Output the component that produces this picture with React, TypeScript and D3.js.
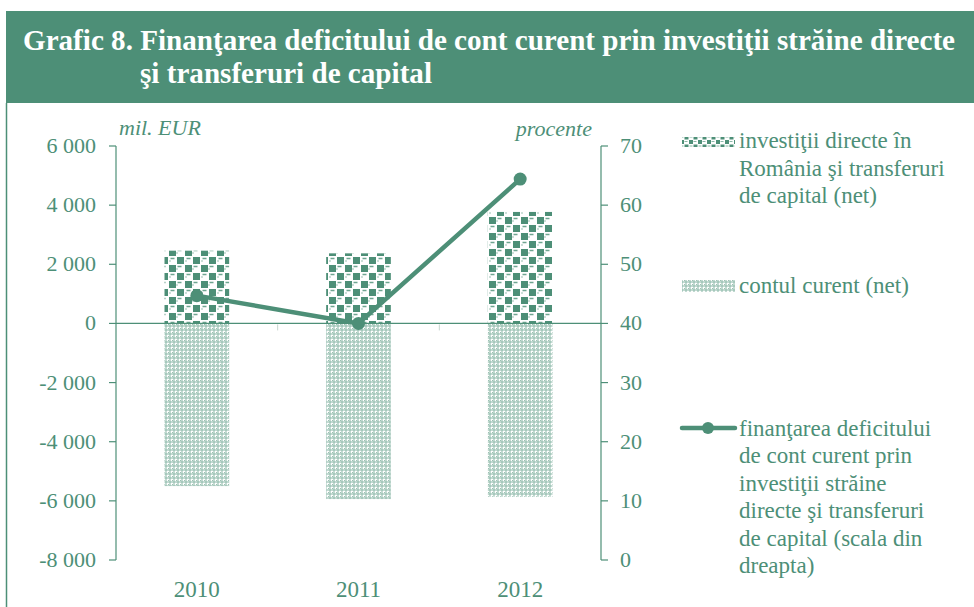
import React from "react";
import * as d3 from "d3";

// chart values
const years = ["2010", "2011", "2012"];
const fdiCapital = [2460, 2370, 3770]; // mil. EUR
const currentAccount = [-5500, -5940, -5860]; // mil. EUR
const coverage = [44.7, 40.0, 64.4]; // procente
const leftTicks = [6000, 4000, 2000, 0, -2000, -4000, -6000, -8000];
const rightTicks = [70, 60, 50, 40, 30, 20, 10, 0];

const titleLines = [
  "Grafic 8. Finanţarea deficitului de cont curent prin investiţii străine directe",
  "şi transferuri de capital",
];
const legendFdi = ["investiţii directe în", "România şi transferuri", "de capital (net)"];
const legendCa = ["contul curent (net)"];
const legendLine = [
  "finanţarea deficitului",
  "de cont curent prin",
  "investiţii străine",
  "directe şi transferuri",
  "de capital (scala din",
  "dreapta)",
];

const green = "#4d8f77";
const serif = "Liberation Serif, Times New Roman, serif";

const fmt = d3.formatLocale({
  decimal: ",",
  thousands: " ",
  grouping: [3],
  currency: ["", ""],
  minus: "-",
}).format(",");

export default function App() {
  const W = 974;
  const H = 607;
  const plotLeft = 116;
  const plotRight = 601;
  const plotTop = 146;
  const plotBottom = 560;

  const x = d3
    .scaleBand()
    .domain(years)
    .range([plotLeft, plotRight])
    .paddingInner(0.6)
    .paddingOuter(0.3);
  const y = d3.scaleLinear().domain([-8000, 6000]).range([plotBottom, plotTop]);
  const y2 = d3.scaleLinear().domain([0, 70]).range([plotBottom, plotTop]);

  const cx = (i: number) => (x(years[i]) as number) + x.bandwidth() / 2;
  const line = d3
    .line<number>()
    .x((_, i) => cx(i))
    .y((d) => y2(d));

  const step = x.step();

  const T = (props: any) => <text fontFamily={serif} fill={green} {...props} />;

  return (
    <svg
      width={W}
      height={H}
      style={{ position: "absolute", left: 0, top: 0, background: "#fff" }}
    >
      <defs>
        <pattern id="chk" width="16" height="16" patternUnits="userSpaceOnUse">
          <rect width="16" height="16" fill="#fff" />
          <rect x="1" y="1" width="7" height="7" fill={green} />
          <rect x="9" y="9" width="7" height="7" fill={green} />
          <path d="M10.5 2.5 h4 M1.5 10.5 h4" stroke="#6fa591" strokeWidth="1.3" />
          <path d="M10 4 v2 M1 12 v2" stroke="#9cc2b3" strokeWidth="1" />
        </pattern>
        <pattern id="chkSmall" width="9" height="9" patternUnits="userSpaceOnUse">
          <rect width="9" height="9" fill="#fff" />
          <rect x="0.5" y="0.5" width="4" height="4" fill={green} />
          <rect x="5" y="5" width="4" height="4" fill={green} />
          <path d="M5.5 2 h3 M0.5 6.5 h3" stroke="#8cb8a7" strokeWidth="1" />
        </pattern>
        <pattern id="dots" width="4" height="4" patternUnits="userSpaceOnUse">
          <rect width="4" height="4" fill="#fff" />
          <circle cx="2" cy="2" r="1.2" fill="none" stroke="#6ea692" strokeWidth="0.9" />
          <rect x="0" y="0" width="1" height="1" fill="#9cc2b3" />
        </pattern>
      </defs>

      {/* title band */}
      <rect x={6} y={11} width={W - 6} height={92} fill={green} />
      <line x1={6.5} x2={6.5} y1={103} y2={H} stroke={green} strokeWidth={1.5} />
      <T
        x={23}
        y={50}
        fill="#fff"
        fontWeight="bold"
        fontSize={29}
        textLength={932}
        lengthAdjust="spacingAndGlyphs"
      >
        {titleLines[0]}
      </T>
      <T
        x={140}
        y={83}
        fill="#fff"
        fontWeight="bold"
        fontSize={29}
        textLength={292}
        lengthAdjust="spacingAndGlyphs"
      >
        {titleLines[1]}
      </T>

      {/* bars */}
      {years.map((yr, i) => (
        <g key={yr}>
          <rect
            x={x(yr)}
            y={y(fdiCapital[i])}
            width={x.bandwidth()}
            height={y(0) - y(fdiCapital[i])}
            fill="url(#chk)"
          />
          <rect
            x={x(yr)}
            y={y(0)}
            width={x.bandwidth()}
            height={y(currentAccount[i]) - y(0)}
            fill="url(#dots)"
          />
        </g>
      ))}

      {/* zero line and category ticks */}
      <line x1={plotLeft} x2={plotRight} y1={y(0)} y2={y(0)} stroke={green} strokeWidth={1.2} />
      {[1, 2].map((k) => (
        <line
          key={k}
          x1={plotLeft + k * step}
          x2={plotLeft + k * step}
          y1={y(0) + 1}
          y2={y(0) + 7}
          stroke="#c8d6d0"
          strokeWidth={1}
        />
      ))}

      {/* left axis */}
      <line x1={plotLeft} x2={plotLeft} y1={plotTop} y2={plotBottom} stroke={green} strokeWidth={1.2} />
      {leftTicks.map((t) => (
        <g key={t}>
          <line x1={plotLeft - 7} x2={plotLeft} y1={y(t)} y2={y(t)} stroke={green} strokeWidth={1.2} />
          <T x={96} y={y(t) + 7} textAnchor="end" fontSize={22}>
            {fmt(t)}
          </T>
        </g>
      ))}
      <T x={119} y={135} fontSize={22} fontStyle="italic">
        mil. EUR
      </T>

      {/* right axis */}
      <line x1={plotRight} x2={plotRight} y1={plotTop} y2={plotBottom} stroke={green} strokeWidth={1.2} />
      {rightTicks.map((t) => (
        <g key={t}>
          <line x1={plotRight} x2={plotRight + 7} y1={y2(t)} y2={y2(t)} stroke={green} strokeWidth={1.2} />
          <T x={620} y={y2(t) + 7} fontSize={22}>
            {t}
          </T>
        </g>
      ))}
      <T x={592} y={136} fontSize={22} fontStyle="italic" textAnchor="end">
        procente
      </T>

      {/* x labels */}
      {years.map((yr, i) => (
        <T key={yr} x={cx(i)} y={597} textAnchor="middle" fontSize={23}>
          {yr}
        </T>
      ))}

      {/* line series */}
      <path d={line(coverage) || ""} fill="none" stroke={green} strokeWidth={4.5} strokeLinejoin="round" />
      {coverage.map((v, i) => (
        <circle key={i} cx={cx(i)} cy={y2(v)} r={6.5} fill={green} />
      ))}

      {/* legend */}
      <rect x={682} y={137} width={53} height={10} fill="url(#chkSmall)" />
      {legendFdi.map((s, i) => (
        <T key={s} x={739} y={148 + i * 27.5} fontSize={23}>
          {s}
        </T>
      ))}
      <rect x={682} y={280} width={53} height={12} fill="url(#dots)" />
      {legendCa.map((s) => (
        <T key={s} x={739} y={293} fontSize={23}>
          {s}
        </T>
      ))}
      <line x1={682} x2={735} y1={428} y2={428} stroke={green} strokeWidth={4.5} strokeLinecap="round" />
      <circle cx={708} cy={428} r={6} fill={green} />
      {legendLine.map((s, i) => (
        <T key={s} x={739} y={436 + i * 27.4} fontSize={23}>
          {s}
        </T>
      ))}
    </svg>
  );
}
